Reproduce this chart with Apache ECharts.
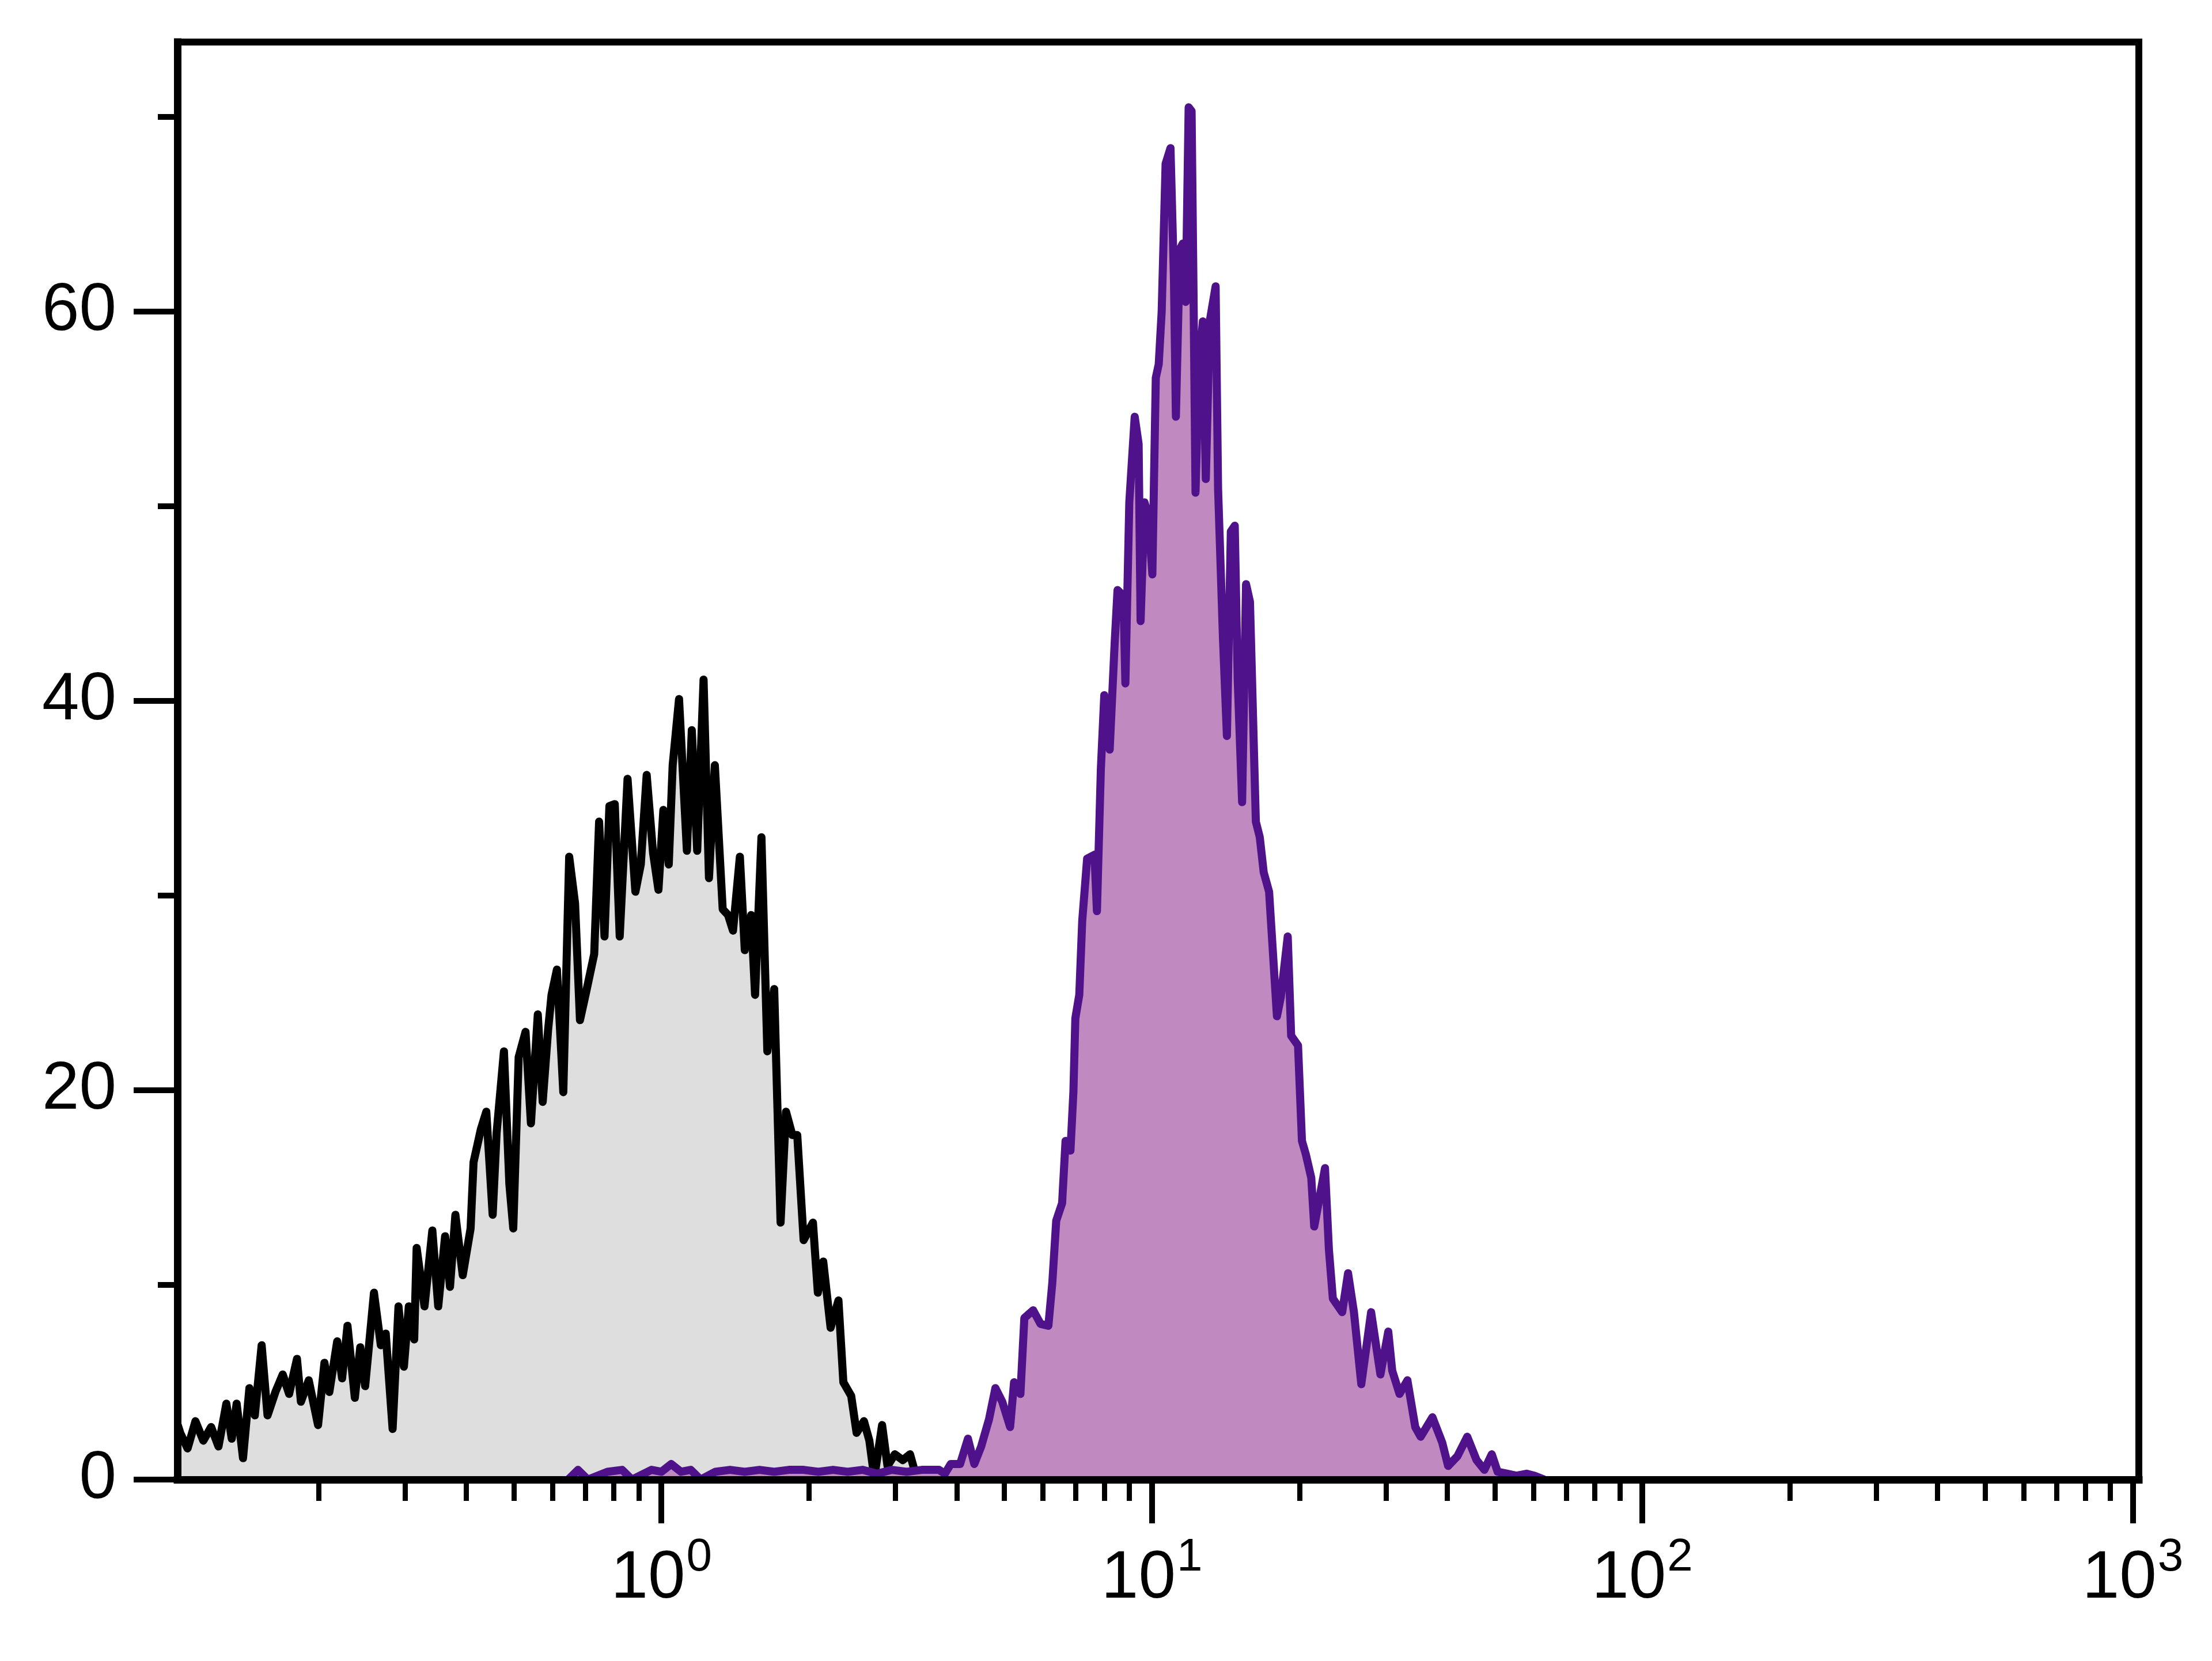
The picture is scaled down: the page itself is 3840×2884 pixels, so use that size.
<!DOCTYPE html>
<html>
<head>
<meta charset="utf-8">
<script src="https://cdn.jsdelivr.net/npm/echarts@6/dist/echarts.min.js"></script>
<style>
html, body { margin: 0; padding: 0; background: #ffffff; }
#chart { width: 3840px; height: 2884px; }
</style>
</head>
<body>
<div id="chart"></div>
<script>
// ---------- data (x = log10 fluorescence intensity, y = count) ----------
const controlHistogram = [
  [-0.986, 2.8], [-0.981, 2.4], [-0.966, 1.6], [-0.950, 3.0], [-0.934, 2.0], [-0.918, 2.7],
  [-0.903, 1.7], [-0.887, 3.9], [-0.876, 2.1], [-0.866, 3.9], [-0.853, 1.1], [-0.840, 4.7],
  [-0.829, 3.3], [-0.815, 6.9], [-0.803, 3.3], [-0.787, 4.5], [-0.772, 5.4], [-0.759, 4.4],
  [-0.743, 6.2], [-0.735, 4.0], [-0.719, 5.1], [-0.700, 2.8], [-0.687, 6.0], [-0.677, 4.5],
  [-0.661, 7.1], [-0.651, 5.2], [-0.640, 7.9], [-0.625, 4.2], [-0.614, 6.8], [-0.604, 4.8],
  [-0.586, 9.6], [-0.572, 6.9], [-0.562, 7.5], [-0.548, 2.6], [-0.536, 8.9], [-0.525, 5.8],
  [-0.515, 8.9], [-0.504, 7.2], [-0.499, 11.9], [-0.483, 8.9], [-0.467, 12.8], [-0.455, 8.9],
  [-0.441, 12.5], [-0.431, 9.9], [-0.420, 13.6], [-0.405, 10.5], [-0.389, 12.9], [-0.383, 16.3],
  [-0.368, 18.0], [-0.357, 18.9], [-0.344, 13.6], [-0.336, 17.8], [-0.321, 22.0], [-0.310, 15.2],
  [-0.302, 12.9], [-0.291, 21.7], [-0.277, 23.0], [-0.266, 18.3], [-0.252, 23.9], [-0.242, 19.4],
  [-0.231, 23.1], [-0.224, 24.9], [-0.213, 26.2], [-0.200, 19.9], [-0.188, 32.0], [-0.176, 29.6],
  [-0.166, 23.6], [-0.153, 25.1], [-0.137, 27.0], [-0.127, 33.8], [-0.116, 27.9], [-0.106, 34.6],
  [-0.095, 34.7], [-0.085, 27.9], [-0.069, 36.0], [-0.053, 30.2], [-0.042, 31.6], [-0.030, 36.2],
  [-0.017, 32.2], [-0.006, 30.3], [0.004, 34.4], [0.015, 31.6], [0.023, 36.7], [0.036, 40.1],
  [0.052, 32.3], [0.062, 38.5], [0.073, 32.3], [0.086, 41.1], [0.097, 30.9], [0.109, 36.7],
  [0.125, 29.3], [0.136, 29.0], [0.146, 28.2], [0.160, 32.0], [0.170, 27.2], [0.183, 29.0],
  [0.191, 24.9], [0.204, 33.0], [0.216, 22.0], [0.230, 25.2], [0.243, 13.2], [0.254, 18.9],
  [0.267, 17.7], [0.277, 17.7], [0.290, 12.3], [0.309, 13.2], [0.319, 9.6], [0.330, 11.2],
  [0.345, 7.8], [0.361, 9.2], [0.371, 5.0], [0.387, 4.3], [0.398, 2.4], [0.413, 3.0],
  [0.424, 2.0], [0.434, 0.1], [0.450, 2.8], [0.461, 0.7], [0.476, 1.3], [0.492, 1.0],
  [0.507, 1.3], [0.518, 0.3], [0.540, 0.2], [0.560, 0.0]
];

const stainedHistogram = [
  [-0.190, 0.0], [-0.170, 0.5], [-0.150, 0.0], [-0.110, 0.4], [-0.080, 0.5], [-0.060, 0.0],
  [-0.020, 0.5], [0.000, 0.4], [0.020, 0.8], [0.040, 0.4], [0.060, 0.5], [0.080, 0.0],
  [0.110, 0.4], [0.140, 0.5], [0.170, 0.4], [0.200, 0.5], [0.230, 0.4], [0.260, 0.5],
  [0.290, 0.5], [0.320, 0.4], [0.350, 0.5], [0.380, 0.4], [0.410, 0.5], [0.440, 0.3],
  [0.470, 0.5], [0.500, 0.4], [0.531, 0.5], [0.566, 0.5], [0.578, 0.3], [0.590, 0.8],
  [0.609, 0.8], [0.625, 2.1], [0.638, 0.8], [0.652, 1.7], [0.668, 3.1], [0.681, 4.7],
  [0.695, 4.0], [0.711, 2.7], [0.719, 5.0], [0.732, 4.4], [0.740, 8.3], [0.758, 8.7],
  [0.773, 8.0], [0.789, 7.9], [0.797, 10.1], [0.805, 13.3], [0.817, 14.2], [0.824, 17.4],
  [0.834, 16.9], [0.840, 19.9], [0.844, 23.7], [0.852, 24.9], [0.858, 28.7], [0.868, 31.9],
  [0.883, 32.1], [0.888, 29.2], [0.896, 36.5], [0.903, 40.3], [0.914, 37.5], [0.924, 42.9],
  [0.930, 45.7], [0.942, 45.4], [0.946, 40.9], [0.954, 50.2], [0.965, 54.6], [0.973, 53.2],
  [0.977, 44.1], [0.985, 50.2], [0.993, 49.5], [1.001, 46.5], [1.008, 56.6], [1.014, 57.3],
  [1.020, 60.0], [1.028, 67.6], [1.038, 68.4], [1.045, 61.7], [1.049, 54.6], [1.057, 63.2],
  [1.063, 63.5], [1.069, 60.5], [1.075, 70.5], [1.081, 70.3], [1.085, 60.8], [1.089, 50.7],
  [1.096, 57.3], [1.104, 59.5], [1.110, 51.4], [1.118, 59.5], [1.130, 61.3], [1.135, 50.9],
  [1.145, 43.2], [1.153, 38.2], [1.161, 48.7], [1.169, 49.0], [1.175, 41.1], [1.184, 34.8],
  [1.192, 46.0], [1.200, 45.1], [1.212, 33.8], [1.220, 33.0], [1.228, 31.2], [1.239, 30.2],
  [1.255, 23.8], [1.263, 24.8], [1.277, 27.9], [1.284, 22.8], [1.298, 22.3], [1.306, 17.4],
  [1.314, 16.7], [1.325, 15.5], [1.331, 13.0], [1.353, 16.0], [1.361, 11.8], [1.369, 9.3],
  [1.388, 8.6], [1.400, 10.6], [1.412, 8.6], [1.427, 4.9], [1.447, 8.6], [1.466, 5.4],
  [1.482, 7.6], [1.490, 5.6], [1.505, 4.4], [1.521, 5.1], [1.537, 2.7], [1.548, 2.2],
  [1.572, 3.2], [1.592, 1.9], [1.604, 0.7], [1.623, 1.2], [1.643, 2.2], [1.662, 1.0],
  [1.678, 0.5], [1.693, 1.3], [1.705, 0.4], [1.725, 0.3], [1.744, 0.2], [1.764, 0.3],
  [1.780, 0.2], [1.800, 0.0]
];

// intensity range shown on the x axis and count range on the y axis
const xIntensityRange = [0.1031, 1028.7];
const yCountRange = [0, 73.85];

// tick values
const xMajorTickIntensities = [1, 10, 100, 1000];
const xMinorTickIntensities = [
  0.2, 0.3, 0.4, 0.5, 0.6, 0.7, 0.8, 0.9,
  2, 3, 4, 5, 6, 7, 8, 9,
  20, 30, 40, 50, 60, 70, 80, 90,
  200, 300, 400, 500, 600, 700, 800, 900
];
const yMajorTicks = [0, 20, 40, 60];
const yMinorTicks = [10, 30, 50, 70];

// ---------- chart ----------
const FONT = "'Liberation Sans', Arial, sans-serif";
const xMin = Math.log10(xIntensityRange[0]);
const xMax = Math.log10(xIntensityRange[1]);
const xMajorLog = xMajorTickIntensities.map(v => Math.log10(v));
const xMinorLog = xMinorTickIntensities.map(v => Math.log10(v));

const gridBox = { left: 308, right: 127, top: 73, bottom: 315 };

const chart = echarts.init(document.getElementById('chart'), null, { renderer: 'canvas' });
chart.setOption({
  animation: false,
  backgroundColor: '#ffffff',
  grid: [
    Object.assign({ show: true, borderColor: '#000', borderWidth: 12, backgroundColor: 'transparent', containLabel: false }, gridBox),
    Object.assign({ show: false, containLabel: false }, gridBox)
  ],
  xAxis: [
    {
      type: 'value', gridIndex: 0, min: xMin, max: xMax, z: 6,
      axisLine: { show: true, onZero: false, lineStyle: { color: '#000', width: 13, cap: 'square' } },
      axisTick: { show: true, customValues: xMajorLog, length: 76, lineStyle: { color: '#000', width: 10 } },
      splitLine: { show: false },
      axisLabel: {
        show: true, customValues: xMajorLog, margin: 73,
        formatter: function (v) { return '{b|10}{s|' + Math.round(v) + '}'; },
        rich: {
          b: { fontSize: 116, lineHeight: 200, verticalAlign: 'middle', fontFamily: FONT, color: '#000' },
          s: { fontSize: 80, verticalAlign: 'middle', padding: [0, 0, 74, 2], fontFamily: FONT, color: '#000' }
        }
      }
    },
    {
      type: 'value', gridIndex: 1, min: xMin, max: xMax, z: 6,
      axisLine: { show: false, onZero: false },
      axisTick: { show: true, customValues: xMinorLog, length: 37, lineStyle: { color: '#000', width: 9 } },
      axisLabel: { show: false },
      splitLine: { show: false }
    }
  ],
  yAxis: [
    {
      type: 'value', gridIndex: 0, min: yCountRange[0], max: yCountRange[1], z: 6,
      axisLine: { show: true, onZero: false, lineStyle: { color: '#000', width: 13, cap: 'square' } },
      axisTick: { show: true, customValues: yMajorTicks, length: 76, lineStyle: { color: '#000', width: 10 } },
      splitLine: { show: false },
      axisLabel: { show: true, customValues: yMajorTicks, margin: 106, fontSize: 116, fontFamily: FONT, color: '#000' }
    },
    {
      type: 'value', gridIndex: 1, min: yCountRange[0], max: yCountRange[1], z: 6,
      position: 'left',
      axisLine: { show: false, onZero: false },
      axisTick: { show: true, customValues: yMinorTicks, length: 34, lineStyle: { color: '#000', width: 10 } },
      axisLabel: { show: false },
      splitLine: { show: false }
    }
  ],
  series: [
    {
      name: 'Isotype control', type: 'line', xAxisIndex: 0, yAxisIndex: 0, z: 2,
      data: controlHistogram, symbol: 'none', showSymbol: false,
      lineStyle: { color: '#000000', width: 14, join: 'round' },
      areaStyle: { color: '#dedede', opacity: 1, origin: 'start' }
    },
    {
      name: 'Stained', type: 'line', xAxisIndex: 0, yAxisIndex: 0, z: 3,
      data: stainedHistogram, symbol: 'none', showSymbol: false,
      lineStyle: { color: '#50128a', width: 14, join: 'round' },
      areaStyle: { color: '#c08ac0', opacity: 1, origin: 'start' }
    }
  ]
});
</script>
</body>
</html>
